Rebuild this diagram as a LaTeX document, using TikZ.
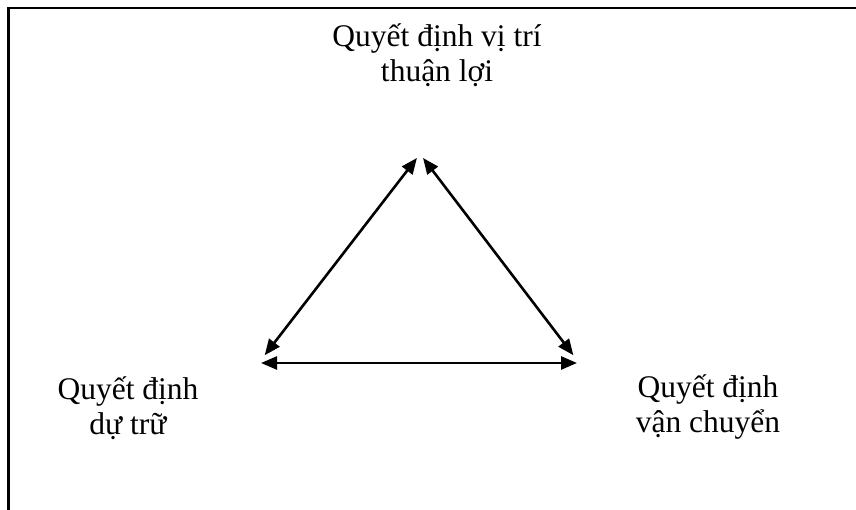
\documentclass[tikz,border=0pt]{standalone}
\usepackage{fontspec}
\setmainfont{Liberation Serif}
\usepackage{tikz}
\usetikzlibrary{arrows.meta,positioning,calc}
\definecolor{cNeut}{HTML}{000000}
\tikzset{
  lbl/.style   ={align=center,inner sep=0pt,font=\fontsize{31.5}{34.5}\selectfont},
  frm/.style   ={draw=cNeut,line width=2.2pt},
  sig/.style   ={{Triangle[length=16pt,width=13pt]}-{Triangle[length=16pt,width=13pt]},
                 draw=cNeut,line width=2.6pt},
}
\begin{document}
\begin{tikzpicture}[x=1pt,y=-1pt,every node/.style={outer sep=0pt}]
\useasboundingbox (0,0) rectangle (856,510);
% frame: only top and left edges show
\draw[frm] (856,8) -- (8.5,8) -- (8.5,510);

\node[lbl] (loc)   at (437,55)  {Quyết định vị trí\\ thuận lợi};
\node[lbl] (inv)   at (128,408) {Quyết định\\ dự trữ};
\node[lbl] (trans) at (708,407) {Quyết định\\ vận chuyển};

% triangle corners
\coordinate (cTop)   at (420,154);
\coordinate (cLeft)  at (261,360);
\coordinate (cRight) at (577,360);

\draw[sig,shorten <=5pt,shorten >=6pt] (cTop) -- (cLeft);
\draw[sig,shorten <=5pt,shorten >=6pt] (cTop) -- (cRight);
\draw[sig] ([yshift=-3pt]cLeft) -- ([yshift=-3pt]cRight);
\end{tikzpicture}
\end{document}
